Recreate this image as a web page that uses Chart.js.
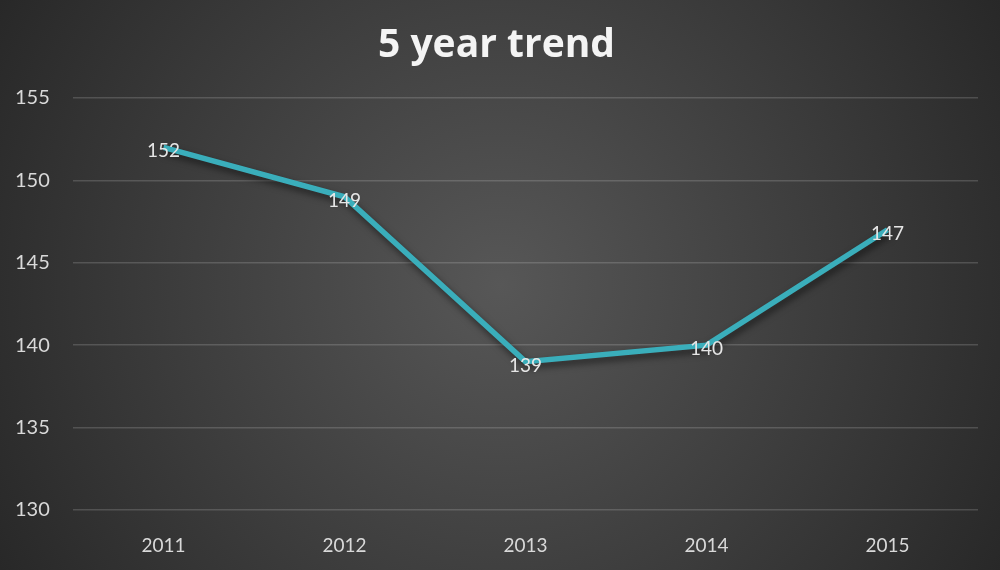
<!DOCTYPE html>
<html>
<head>
<meta charset="utf-8">
<script src="https://cdn.jsdelivr.net/npm/chart.js@4"></script>
<style>
  html, body { margin: 0; padding: 0; background: #333; }
  #wrap { width: 1000px; height: 570px; }
</style>
</head>
<body>
<div id="wrap"><canvas id="trendChart" width="1000" height="570"></canvas></div>
<script>
// chart data
const years = ['2011', '2012', '2013', '2014', '2015'];
const trendValues = [152, 149, 139, 140, 147];
const yTicks = [130, 135, 140, 145, 150, 155];

const FONT = 'Lato, "Open Sans", sans-serif';

// dark radial background, lighter in the middle
const backdrop = {
  id: 'backdrop',
  beforeDraw(chart) {
    const { ctx, width, height } = chart;
    const g = ctx.createRadialGradient(width / 2, height / 2, 0, width / 2, height / 2, width * 0.6);
    g.addColorStop(0, '#575757');
    g.addColorStop(1, '#262626');
    ctx.save();
    ctx.fillStyle = g;
    ctx.fillRect(0, 0, width, height);
    ctx.restore();
  }
};

// soft drop shadow under the line
const lineShadow = {
  id: 'lineShadow',
  beforeDatasetDraw(chart) {
    const ctx = chart.ctx;
    ctx.save();
    ctx.shadowColor = 'rgba(0,0,0,0.55)';
    ctx.shadowBlur = 7;
    ctx.shadowOffsetX = 2;
    ctx.shadowOffsetY = 4;
  },
  afterDatasetDraw(chart) {
    chart.ctx.restore();
  }
};

// value labels sitting on the points
const valueLabels = {
  id: 'valueLabels',
  afterDatasetsDraw(chart) {
    const { ctx } = chart;
    const meta = chart.getDatasetMeta(0);
    ctx.save();
    ctx.font = '19px ' + FONT;
    ctx.fillStyle = '#e6e6e6';
    ctx.textAlign = 'center';
    ctx.textBaseline = 'middle';
    meta.data.forEach((pt, i) => {
      ctx.fillText(String(trendValues[i]), pt.x, pt.y + 4);
    });
    ctx.restore();
  }
};

new Chart(document.getElementById('trendChart'), {
  type: 'line',
  data: {
    labels: years,
    datasets: [{
      data: trendValues,
      borderColor: '#3aaebb',
      borderWidth: 5.5,
      pointRadius: 0,
      tension: 0,
      fill: false
    }]
  },
  options: {
    responsive: false,
    animation: false,
    layout: { padding: { left: 15, right: 22, top: 0, bottom: 0 } },
    plugins: {
      legend: { display: false },
      tooltip: { enabled: false },
      title: {
        display: true,
        text: '5 year trend',
        color: '#f4f4f4',
        font: { family: '"Open Sans", Lato, sans-serif', size: 39, weight: 'bold', lineHeight: 1.1 },
        padding: { top: 24, bottom: 31 }
      }
    },
    scales: {
      x: {
        offset: true,
        grid: { display: false, drawTicks: false },
        border: { display: false },
        ticks: { color: '#d9d9d9', font: { family: FONT, size: 19 }, padding: 24 },
        afterFit(axis) { axis.height = 60; }
      },
      y: {
        min: yTicks[0],
        max: yTicks[yTicks.length - 1],
        afterBuildTicks(axis) { axis.ticks = yTicks.map(v => ({ value: v })); },
        grid: { color: 'rgba(255,255,255,0.16)', lineWidth: 1.5, drawTicks: false },
        border: { display: false },
        ticks: { color: '#d9d9d9', font: { family: FONT, size: 20 }, crossAlign: 'far', padding: 0 },
        afterFit(axis) { axis.width = 58; }
      }
    }
  },
  plugins: [backdrop, lineShadow, valueLabels]
});
</script>
</body>
</html>
